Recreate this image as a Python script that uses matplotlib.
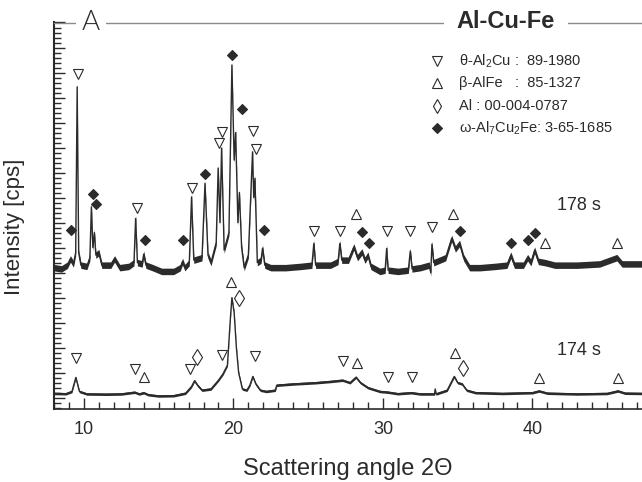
import matplotlib
matplotlib.use("Agg")
import matplotlib.pyplot as plt
from matplotlib.ticker import MultipleLocator

plt.rcParams.update({"font.family": ["Liberation Sans", "DejaVu Sans"],
                     "mathtext.fontset": "custom",
                     "mathtext.rm": "Liberation Sans",
                     "mathtext.it": "Liberation Sans:italic"})

# 178 s pattern (2theta, intensity in arb. units, offset)
tt_178 = [8.0, 8.5, 8.9, 9.1, 9.3, 9.45, 9.55, 9.65, 9.8, 10.2, 10.4, 10.5, 10.6, 10.7,
          10.8, 11.0, 11.2, 11.8, 12.05, 12.4, 13.0, 13.35, 13.46, 13.58, 13.9, 14.0,
          14.15, 14.6, 15.2, 16.0, 16.45, 16.6, 16.75, 17.05, 17.2, 17.35, 17.9, 18.1,
          18.3, 18.5, 18.85, 18.98, 19.1, 19.21, 19.38, 19.7, 19.9, 20.05, 20.15, 20.3,
          20.4, 20.55, 20.72, 21.0, 21.28, 21.36, 21.44, 21.6, 21.85, 21.95, 22.1, 22.5,
          23.5, 24.5, 25.25, 25.38, 25.5, 26.5, 27.0, 27.12, 27.25, 27.7, 28.06, 28.3,
          28.6, 28.8, 29.0, 29.2, 29.8, 30.15, 30.25, 30.35, 31.0, 31.7, 31.83, 31.95,
          32.5, 33.1, 33.2, 33.28, 33.4, 34.2, 34.6, 34.85, 35.13, 35.4, 35.8, 36.5,
          37.5, 38.3, 38.56, 38.8, 39.4, 39.68, 39.9, 40.15, 40.4, 40.86, 41.5, 43.0,
          44.5, 45.65, 46.0, 47.4]
i_178 = [5.2, 5.15, 5.3, 5.55, 5.35, 5.8, 12.43, 5.8, 5.3, 5.25, 5.6, 7.63, 6.0, 6.6,
         5.7, 5.8, 5.3, 5.3, 5.55, 5.2, 5.25, 5.4, 7.17, 5.4, 5.35, 5.74,
         5.3, 5.2, 5.05, 5.05, 5.2, 5.45, 5.2, 5.4, 8.03, 5.5, 5.6, 8.57,
         5.7, 5.4, 6.2, 9.18, 7.0, 9.98, 5.9, 6.6, 13.3, 9.5, 10.6, 7.0,
         8.2, 6.0, 5.2, 5.7, 9.83, 8.0, 8.77, 5.4, 5.5, 5.98, 5.3, 5.2,
         5.2, 5.25, 5.3, 6.17, 5.3, 5.3, 5.45, 6.17, 5.5, 5.5, 6.03, 5.6,
         5.83, 5.5, 5.7, 5.25, 5.05, 5.1, 5.97, 5.1, 5.05, 5.1, 5.86, 5.15,
         5.2, 5.3, 5.0, 6.14, 5.4, 5.6, 6.37, 5.95, 6.17, 5.6, 5.2, 5.2,
         5.25, 5.3, 5.7, 5.3, 5.3, 5.6, 5.4, 5.9, 5.45, 5.4, 5.3, 5.3,
         5.35, 5.6, 5.35, 5.35]

# 174 s pattern
tt_174 = [8.0, 8.8, 9.2, 9.46, 9.7, 10.2, 11.5, 12.5, 13.4, 13.7, 14.0, 14.3, 15.0, 16.0,
          16.8, 17.2, 17.4, 17.6, 17.9, 18.5, 19.0, 19.3, 19.6, 19.8, 19.9, 20.05, 20.2,
          20.35, 20.6, 20.9, 21.1, 21.3, 21.5, 21.8, 22.2, 22.8, 22.9, 24.0, 25.5, 26.5,
          27.3, 27.8, 28.2, 28.5, 29.0, 29.8, 30.35, 31.0, 31.9, 32.5, 33.45, 33.5, 33.55,
          34.3, 34.77, 35.0, 35.3, 35.6, 36.2, 38.0, 40.0, 40.44, 41.0, 43.0, 45.0, 45.72,
          46.2, 47.4]
i_174 = [0.17, 0.16, 0.25, 0.81, 0.25, 0.15, 0.14, 0.15, 0.22, 0.15, 0.2, 0.12, 0.07, 0.08,
         0.18, 0.45, 0.68, 0.5, 0.3, 0.35, 0.7, 0.95, 1.3, 3.2, 4.0, 3.4, 2.0,
         1.0, 0.35, 0.3, 0.5, 0.85, 0.55, 0.3, 0.25, 0.3, 0.5, 0.55, 0.6, 0.65,
         0.7, 0.6, 0.82, 0.6, 0.4, 0.25, 0.22, 0.16, 0.2, 0.15, 0.15, 0.35, 0.15,
         0.3, 0.85, 0.6, 0.55, 0.3, 0.2, 0.17, 0.2, 0.27, 0.18, 0.15, 0.17, 0.27,
         0.18, 0.17]

# phase markers (2theta, y)
theta_x = [9.6, 13.52, 17.2, 19.05, 19.21, 21.32, 21.5, 25.36, 27.12, 30.25, 31.83, 33.28,
           9.46, 13.4, 17.13, 19.22, 21.43, 27.3, 30.35, 31.94]
theta_y = [12.94, 7.6, 8.37, 10.19, 10.63, 10.66, 9.93, 6.67, 6.67, 6.67, 6.67, 6.83,
           1.57, 1.13, 1.13, 1.7, 1.66, 1.47, 0.81, 0.83]
beta_x = [28.19, 34.66, 40.86, 45.65, 14.04, 19.84, 28.26, 34.85, 40.44, 45.72]
beta_y = [7.33, 7.33, 6.2, 6.2, 0.83, 4.63, 1.37, 1.77, 0.77, 0.77]
al_x = [17.57, 20.35, 35.37]
al_y = [1.61, 3.97, 1.17]
omega_x = [9.15, 10.58, 10.8, 14.1, 16.62, 18.1, 19.9, 20.57, 22.06, 28.6, 29.08, 35.17,
           38.56, 39.68, 40.17]
omega_y = [6.7, 8.14, 7.74, 6.3, 6.3, 8.94, 13.7, 11.53, 6.7, 6.63, 6.2, 6.65,
           6.2, 6.3, 6.59]

legend_labels = [r"θ-Al$_2$Cu :  89-1980", r"β-AlFe   :  85-1327",
                 "Al : 00-004-0787", r"ω-Al$_7$Cu$_2$Fe: 3-65-1685"]

W, H = 642, 482
fig = plt.figure(figsize=(6.42, 4.82), dpi=100)
ax = fig.add_axes([54 / W, 1 - 409 / H, 588 / W, 386.5 / H])

dark = "#2b2b2b"
ax.fill_between(tt_178, [v - 0.13 for v in i_178], [v + 0.13 for v in i_178],
                color=dark, lw=0)
ax.plot(tt_178, i_178, color=dark, lw=1.0)
ax.fill_between(tt_174, [v - 0.05 for v in i_174], [v + 0.05 for v in i_174],
                color=dark, lw=0)
ax.plot(tt_174, i_174, color=dark, lw=1.0)

mk = dict(ls="none", color=dark, mew=0.8)
ax.plot(theta_x, theta_y, marker="v", ms=6.5, mfc="white", **mk)
ax.plot(beta_x, beta_y, marker="^", ms=6.5, mfc="white", **mk)
ax.plot(al_x, al_y, marker="d", ms=8.5, mfc="white", **mk)
ax.plot(omega_x, omega_y, marker="D", ms=5.5, mfc=dark, **mk)

ax.set_xlim(8.0, 47.33)
ax.set_ylim(-0.45, 15)
ax.xaxis.set_major_locator(MultipleLocator(10))
ax.xaxis.set_minor_locator(MultipleLocator(1))
ax.yaxis.set_major_locator(MultipleLocator(1))
ax.yaxis.set_minor_locator(MultipleLocator(0.2))
ax.tick_params(which="both", direction="in", color=dark, width=1, labelleft=False,
               labelsize=13, labelcolor=dark, pad=9)
ax.tick_params(which="major", length=8)
ax.tick_params(which="minor", length=5)
ax.spines["right"].set_visible(False)
ax.spines["top"].set_color("#8a8a8a")
ax.spines["top"].set_linewidth(1.0)
ax.spines["left"].set_color(dark)
ax.spines["left"].set_linewidth(1.5)
ax.spines["bottom"].set_color(dark)
ax.spines["bottom"].set_linewidth(1.2)

ax.set_xlabel("Scattering angle 2Θ", fontsize=17, color=dark, labelpad=14)
fig.text(15 / W, 1 - 227 / H, "Intensity [cps]", rotation=90, ha="center", va="center",
         fontsize=16, color=dark)

fig.text(91 / W, 1 - 23 / H, "A", ha="center", va="center", fontsize=20,
         family=["Lato", "Liberation Sans"], weight=300, color=dark,
         bbox=dict(fc="white", ec="none", pad=4))
fig.text(506 / W, 1 - 22 / H, "Al-Cu-Fe", ha="center", va="center", fontsize=17,
         weight="bold", color=dark, bbox=dict(fc="white", ec="none", pad=9))

ax.text(43.1, 7.7, "178 s", ha="center", va="center", fontsize=13, color=dark)
ax.text(43.1, 1.9, "174 s", ha="center", va="center", fontsize=13, color=dark)

# legend drawn by hand
leg_markers = [("v", "white", 6.5), ("^", "white", 6.5), ("d", "white", 7.5), ("D", dark, 5.5)]
for k, (m, fc, ms) in enumerate(leg_markers):
    yy = 1 - (61 + 22.4 * k) / H
    fig.add_artist(plt.Line2D([437 / W], [yy], marker=m, ms=ms, mfc=fc, mec=dark,
                              mew=0.8, ls="none"))
    fig.text(459 / W, yy, legend_labels[k], ha="left", va="center", fontsize=10.5,
             color=dark)

fig.savefig("out.png", dpi=100, facecolor="white")
